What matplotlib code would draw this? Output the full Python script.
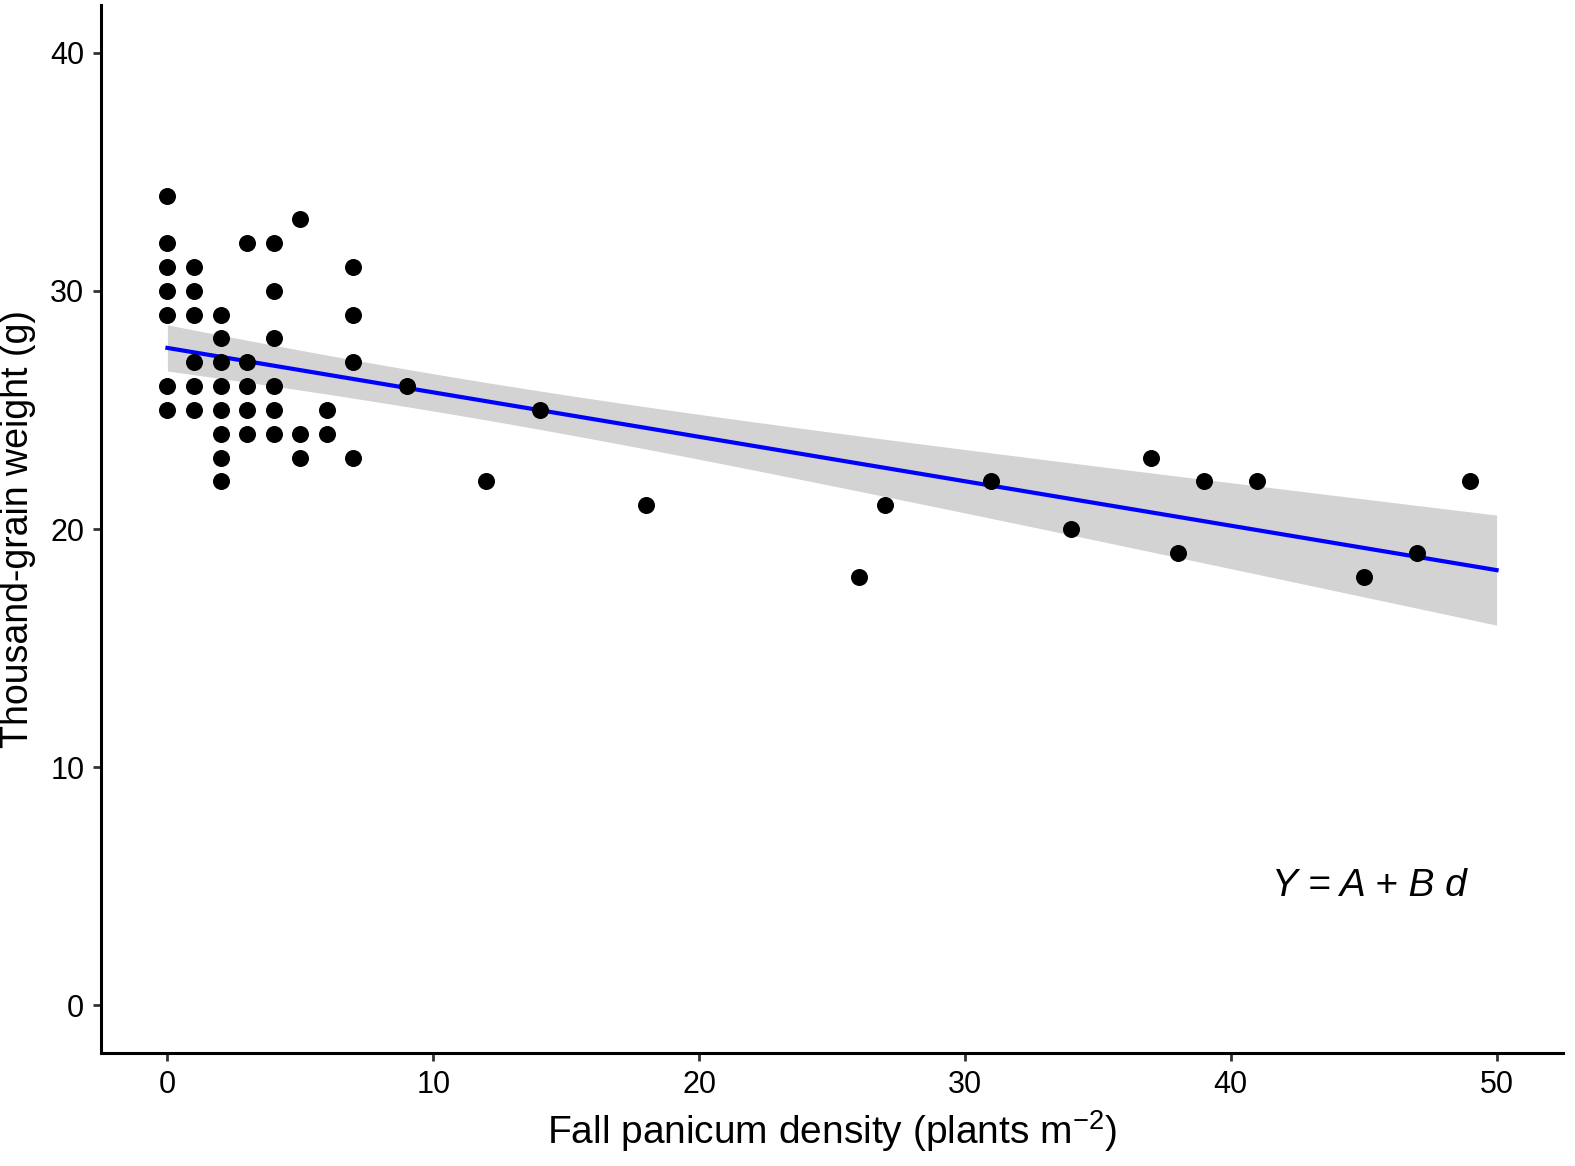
import numpy as np
import matplotlib.pyplot as plt

plt.rcParams["font.family"] = ["Liberation Sans", "DejaVu Sans"]
plt.rcParams["mathtext.fontset"] = "custom"
plt.rcParams["mathtext.rm"] = "Liberation Sans"
plt.rcParams["mathtext.it"] = "Liberation Sans:italic"

# fall panicum density (plants m^-2) and thousand-grain weight (g)
density = [0, 0, 0, 0, 0, 0, 0,
           1, 1, 1, 1, 1, 1,
           2, 2, 2, 2, 2, 2, 2, 2,
           3, 3, 3, 3, 3,
           4, 4, 4, 4, 4, 4,
           5, 5, 5,
           6, 6,
           7, 7, 7, 7,
           9, 12, 14, 18, 26, 27, 31, 34, 37, 38, 39, 41, 45, 47, 49]
weight = [34, 32, 31, 30, 29, 26, 25,
          31, 30, 29, 27, 26, 25,
          29, 28, 27, 26, 25, 24, 23, 22,
          32, 27, 26, 25, 24,
          32, 30, 28, 26, 25, 24,
          33, 24, 23,
          25, 24,
          31, 29, 27, 23,
          26, 22, 25, 21, 18, 21, 22, 20, 23, 19, 22, 22, 18, 19, 22]

x = np.array(density, dtype=float)
y = np.array(weight, dtype=float)

# linear fit with 95% confidence band (like geom_smooth(method="lm"))
n = len(x)
B, A = np.polyfit(x, y, 1)
xs = np.linspace(0, 50, 200)
fit = A + B * xs
resid = y - (A + B * x)
s = np.sqrt(np.sum(resid ** 2) / (n - 2))
sxx = np.sum((x - x.mean()) ** 2)
se = s * np.sqrt(1 / n + (xs - x.mean()) ** 2 / sxx)
tval = 2.005
lo, hi = fit - tval * se, fit + tval * se

fig = plt.figure(figsize=(15.75, 11.66), dpi=100)
ax = fig.add_axes([0.0641, 0.0969, 0.9283, 0.8988])

ax.fill_between(xs, lo, hi, color="#d3d3d3", lw=0, zorder=1)
ax.plot(xs, fit, color="#0000ff", lw=3, zorder=2)
ax.scatter(x, y, s=150, color="black", lw=0, zorder=3)

ax.text(45.2, 5.0, "Y = A + B d", fontsize=28, fontstyle="italic",
        ha="center", va="center")

ax.set_xlim(-2.5, 52.5)
ax.set_ylim(-2, 42)
ax.set_xticks([0, 10, 20, 30, 40, 50])
ax.set_yticks([0, 10, 20, 30, 40])
ax.tick_params(labelsize=22, length=6, width=2, color="#333333", pad=6)
for side in ["top", "right"]:
    ax.spines[side].set_visible(False)
for side in ["left", "bottom"]:
    ax.spines[side].set_linewidth(2.2)

ax.set_xlabel("Fall panicum density (plants m$^{-2}$)", fontsize=28, labelpad=6)
ax.set_ylabel("Thousand-grain weight (g)", fontsize=27, labelpad=10)

fig.savefig("out.png", dpi=100)
